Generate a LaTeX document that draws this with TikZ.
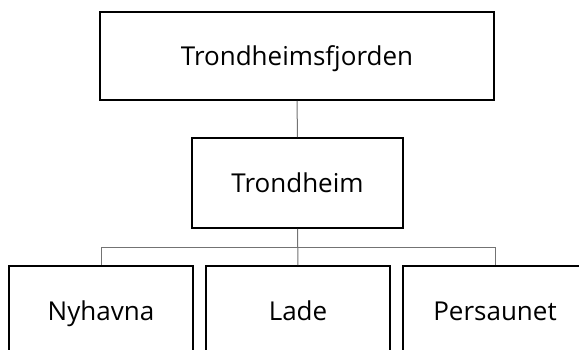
\documentclass[tikz,border=0pt]{standalone}
\usepackage{fontspec}
\setmainfont{Open Sans}
\begin{document}
\begin{tikzpicture}[x=1pt,y=-1pt,
  box/.style={draw=black,line width=1.6pt,fill=white,inner sep=0pt,
    text height=19pt,text depth=0pt,font=\fontsize{26}{30}\selectfont},
  conn/.style={draw=black!55,line width=1pt}]
\clip (0,0) rectangle (579,350);
\fill[white] (0,0) rectangle (579,350);
\node[box,minimum width=394pt,minimum height=88pt] (top) at (297,56) {Trondheimsfjorden};
\node[box,minimum width=211pt,minimum height=90pt] (mid) at (297.5,183) {Trondheim};
\node[box,minimum width=184pt,minimum height=90pt] (b1) at (101,311) {Nyhavna};
\node[box,minimum width=184pt,minimum height=90pt] (b2) at (298,311) {Lade};
\node[box,minimum width=184pt,minimum height=90pt] (b3) at (495,311) {Persaunet};
\coordinate (bar) at (297.5,248);
\draw[conn] (top.south) -- (mid.north);
\draw[conn] (mid.south) -- (b2.north);
\draw[conn] (b1.north) -- (b1.north |- bar) -- (b3.north |- bar) -- (b3.north);
\end{tikzpicture}
\end{document}
